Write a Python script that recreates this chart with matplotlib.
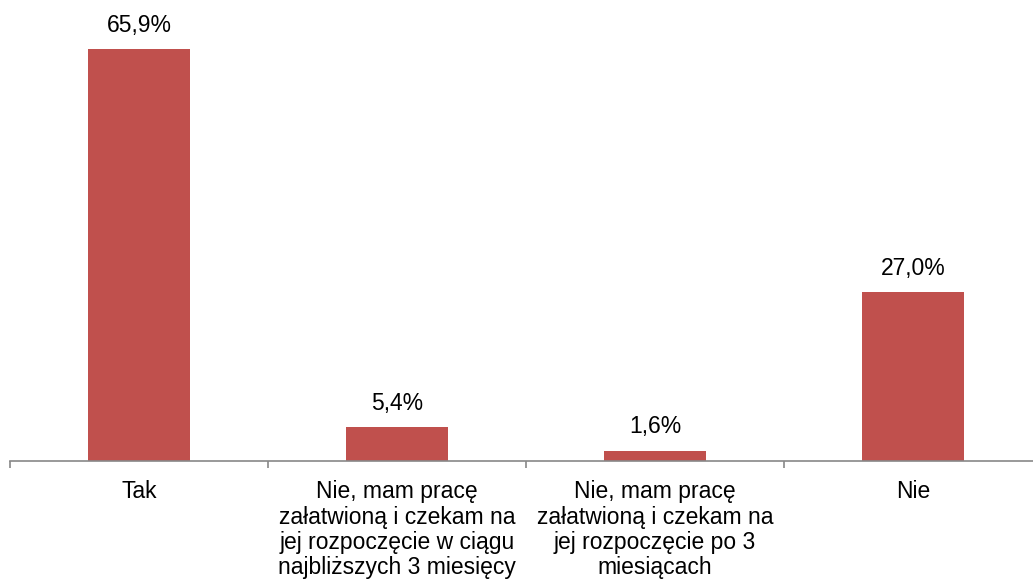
import matplotlib
matplotlib.use("Agg")
import matplotlib.pyplot as plt

categories = [
    "Tak",
    "Nie, mam pracę\nzałatwioną i czekam na\njej rozpoczęcie w ciągu\nnajbliższych 3 miesięcy",
    "Nie, mam pracę\nzałatwioną i czekam na\njej rozpoczęcie po 3\nmiesiącach",
    "Nie",
]
values = [65.9, 5.4, 1.6, 27.0]
value_labels = ["65,9%", "5,4%", "1,6%", "27,0%"]

plt.rcParams['font.family'] = ['Liberation Sans', 'DejaVu Sans']

W, H = 1033, 584
fig = plt.figure(figsize=(W / 100, H / 100), dpi=100)
ax = fig.add_axes([10 / W, (H - 461) / H, 1032 / W, 461 / H])

x = list(range(len(categories)))
bars = ax.bar(x, values, width=0.395, color="#C0504D", zorder=2)
ax.set_xlim(-0.5, len(categories) - 0.5)
ax.set_ylim(0, 461 / 6.25)

for xi, v, lab in zip(x, values, value_labels):
    ax.annotate(lab, (xi, v), xytext=(0, 9), textcoords="offset points",
                ha="center", va="bottom", fontsize=16.5, color="#000000")

for s in ["top", "right", "left"]:
    ax.spines[s].set_visible(False)
ax.spines["bottom"].set_color("#888888")
ax.spines["bottom"].set_linewidth(1.2)
ax.spines["bottom"].set_clip_on(False)
ax.set_yticks([])

ax.set_xticks([-0.5, 0.5, 1.5, 2.5, 3.5])
ax.set_xticklabels([])
ax.tick_params(axis="x", which="major", length=5, width=1.2, color="#888888", direction="out")
ax.set_xticks(x, minor=True)
ax.set_xticklabels(categories, minor=True, fontsize=16.5, linespacing=1.13)
ax.tick_params(axis="x", which="minor", length=0, pad=14, colors="#000000")

fig.savefig("out.png", dpi=100)
